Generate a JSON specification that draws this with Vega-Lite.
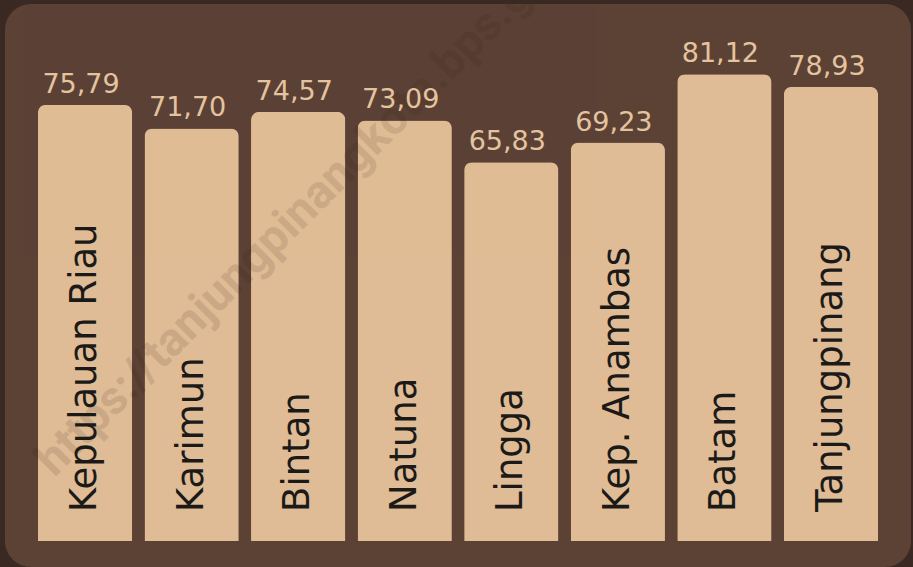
{
  "$schema": "https://vega.github.io/schema/vega-lite/v6.json",
  "width": 906,
  "height": 563,
  "autosize": {"type": "none"},
  "padding": {"left": 5, "top": 4, "right": 2, "bottom": 0},
  "background": "#3a2822",
  "config": {
    "view": {"fill": "#5c4235", "stroke": null, "cornerRadius": 26},
    "axis": {"disable": true}
  },
  "data": {
    "values": [
      {"wilayah": "Kepulauan Riau", "nilai": 75.79, "label": "75,79"},
      {"wilayah": "Karimun", "nilai": 71.70, "label": "71,70"},
      {"wilayah": "Bintan", "nilai": 74.57, "label": "74,57"},
      {"wilayah": "Natuna", "nilai": 73.09, "label": "73,09"},
      {"wilayah": "Lingga", "nilai": 65.83, "label": "65,83"},
      {"wilayah": "Kep. Anambas", "nilai": 69.23, "label": "69,23"},
      {"wilayah": "Batam", "nilai": 81.12, "label": "81,12"},
      {"wilayah": "Tanjungpinang", "nilai": 78.93, "label": "78,93"}
    ]
  },
  "encoding": {
    "x": {
      "field": "wilayah",
      "type": "nominal",
      "sort": null,
      "axis": null,
      "scale": {"paddingInner": 0.1153, "paddingOuter": 0.309}
    }
  },
  "layer": [
    {
      "mark": {"type": "bar", "color": "#dfbc95", "cornerRadiusTopLeft": 8, "cornerRadiusTopRight": 8},
      "encoding": {
        "y": {"field": "nilai", "type": "quantitative", "axis": null, "scale": {"domain": [-4.52, 93.32], "nice": false, "zero": false}}
      }
    },
    {
      "data": {"values": [{"teks": "https://tanjungpinangkota.bps.go.id", "wilayah": "Kepulauan Riau"}]},
      "mark": {"type": "text", "angle": -45, "align": "left", "baseline": "alphabetic", "font": "Roboto", "fontWeight": "bold", "fontSize": 47, "color": "#2a1208", "opacity": 0.11, "dx": -21.6, "dy": -21.6, "clip": true},
      "encoding": {
        "y": {"datum": 10.95, "type": "quantitative"},
        "text": {"field": "teks"}
      }
    },
    {
      "mark": {"type": "text", "angle": 270, "align": "left", "baseline": "middle", "font": "DejaVu Sans", "fontSize": 37, "color": "#1c1a18", "dx": 29},
      "encoding": {
        "y": {"datum": 0, "type": "quantitative"},
        "text": {"field": "wilayah"}
      }
    },
    {
      "mark": {"type": "text", "align": "center", "baseline": "alphabetic", "font": "DejaVu Sans", "fontSize": 27, "color": "#e4c39f", "dy": -12, "dx": -4},
      "encoding": {
        "y": {"field": "nilai", "type": "quantitative"},
        "text": {"field": "label"}
      }
    }
  ]
}
